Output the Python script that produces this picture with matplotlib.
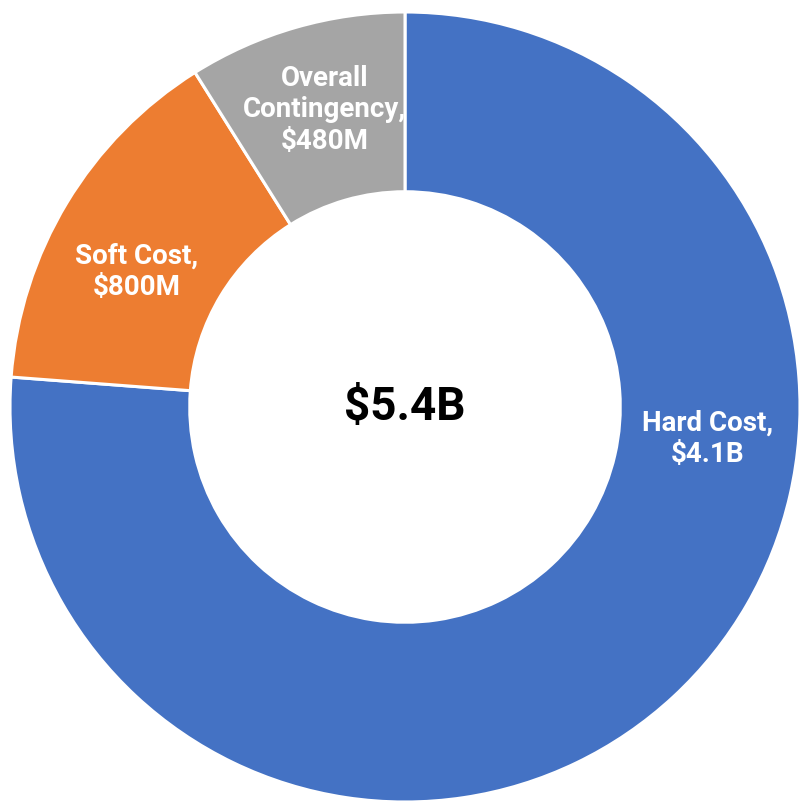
import numpy as np
import matplotlib

matplotlib.use("Agg")
from matplotlib import pyplot as plt

categories = ["Hard Cost", "Soft Cost", "Overall\nContingency"]
values = [4100, 800, 480]  # $M
value_labels = ["$4.1B", "$800M", "$480M"]
total_label = "$5.4B"
colors = ["#4472C4", "#ED7D31", "#A5A5A5"]

plt.rcParams["font.family"] = ["Roboto", "DejaVu Sans"]

fig = plt.figure(figsize=(8.07, 8.08), dpi=100)
ax = fig.add_axes([0, 0, 1, 1])

ax.pie(
    values,
    colors=colors,
    startangle=90,
    counterclock=False,
    radius=1.0,
    wedgeprops=dict(width=0.455, edgecolor="white", linewidth=2.2),
)

# pie() resets the limits, so set them afterwards
radius_px = 395
cx, cy = 405, 407
ax.set_xlim(-cx / radius_px, (807 - cx) / radius_px)
ax.set_ylim(-(808 - cy) / radius_px, cy / radius_px)
ax.set_aspect("equal")
ax.axis("off")

# label placement along the ring (angle in degrees, radius)
label_angles = [-6.0, 153.3, 105.1]
label_radii = [0.769, 0.76, 0.779]
for name, val, ang, r in zip(categories, value_labels, label_angles, label_radii):
    a = np.deg2rad(ang)
    ax.text(
        r * np.cos(a), r * np.sin(a), f"{name},\n{val}",
        ha="center", va="center", color="white",
        fontsize=20, fontweight="bold", linespacing=1.2,
    )

ax.text(0, 0, total_label, ha="center", va="center",
        fontsize=33, fontweight="bold", color="black")

fig.savefig("out.png", dpi=100)
